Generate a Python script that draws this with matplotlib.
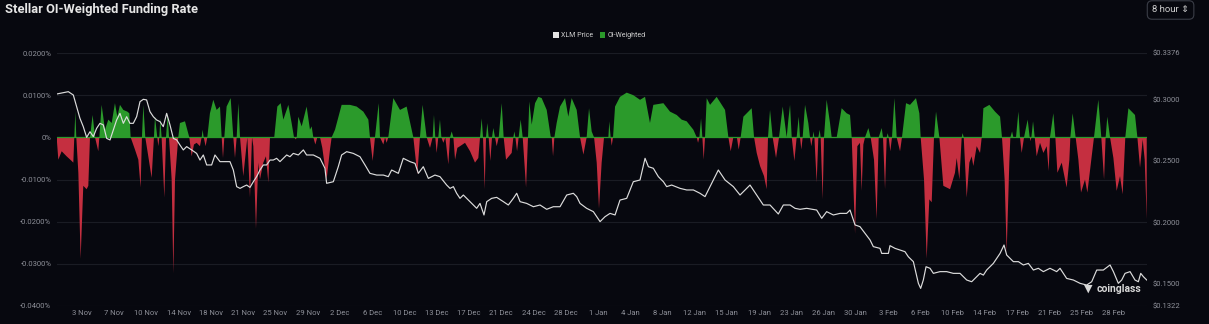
import numpy as np
import matplotlib.pyplot as plt
from matplotlib.patches import Patch

plt.rcParams['font.family'] = ['Roboto', 'DejaVu Sans']

# x values are days since 31 Oct 00:00, funding rate in %
funding_pts = [
    (0.63, 0), (0.82, -0.0053), (1.20, -0.0033), (1.76, -0.0045), (2.33, -0.0056), (2.52, -0.0060),
    (2.63, 0), (2.75, 0.0061), (2.86, 0), (3.09, -0.0084), (3.35, -0.0288), (3.65, -0.0115),
    (4.03, -0.0123), (4.22, -0.0115), (4.41, 0), (4.71, 0.0053), (4.98, 0), (5.35, -0.0033),
    (5.47, 0), (5.73, 0.0077), (6.11, 0.0018), (6.49, 0.0042), (6.87, 0.0034), (7.24, 0.0081),
    (7.51, 0.0049), (7.81, 0.0077), (8.19, 0.0065), (8.64, 0.0061), (8.87, 0.0057), (9.02, 0),
    (9.51, -0.0029), (9.89, -0.0053), (10.15, -0.0119), (10.30, 0), (10.46, 0.0077), (10.68, 0),
    (11.02, -0.0045), (11.40, -0.0096), (11.66, 0), (11.78, 0.0049), (12.04, 0), (12.16, -0.0021),
    (12.27, 0), (12.38, 0.0045), (12.53, 0), (12.84, -0.0143), (13.03, 0), (13.22, 0.0057),
    (13.37, 0), (13.67, -0.0100), (13.86, -0.0323), (14.05, -0.0100), (14.42, 0), (14.61, 0.0034),
    (15.18, 0.0038), (15.67, 0), (15.94, -0.0045), (16.20, -0.0017), (16.50, -0.0013), (16.88, -0.0021),
    (17.07, 0), (17.18, 0.0018), (17.30, 0), (17.52, -0.0021), (17.71, 0), (18.01, 0.0057),
    (18.39, 0.0089), (18.77, 0.0065), (19.15, 0.0073), (19.34, 0), (19.49, -0.0049), (19.64, 0),
    (19.90, 0.0073), (20.36, 0.0093), (20.66, 0), (20.85, -0.0049), (21.04, 0), (21.23, 0.0081),
    (21.42, 0), (21.79, -0.0092), (22.25, 0), (22.55, -0.0143), (22.78, 0), (22.93, -0.0021),
    (23.23, -0.0217), (23.49, -0.0060), (23.68, -0.0100), (24.06, -0.0060), (24.36, -0.0045),
    (24.63, -0.0107), (24.82, 0), (25.30, 0), (25.65, 0.0073), (26.03, 0.0081), (26.33, 0.0042),
    (26.90, 0.0077), (27.27, 0.0034), (27.54, 0), (27.76, -0.0005), (27.85, 0), (28.03, 0.0049),
    (28.41, 0.0026), (28.97, 0.0073), (29.35, 0.0018), (29.54, 0.0026), (29.73, 0), (29.96, -0.0017),
    (30.18, 0), (30.49, 0), (30.75, -0.0025), (31.24, -0.0100), (31.62, -0.0029), (31.81, 0),
    (32.19, 0.0018), (32.94, 0.0077), (33.89, 0.0077), (34.64, 0.0073), (35.40, 0.0061),
    (35.97, 0.0042), (36.15, 0), (36.46, -0.0056), (36.72, 0), (37.14, 0.0081), (37.29, 0),
    (37.67, -0.0017), (37.86, 0), (38.04, -0.0013), (38.23, 0), (38.80, 0.0093), (39.56, 0.0065),
    (40.31, 0.0073), (41.07, 0), (41.52, -0.0088), (41.82, 0), (42.12, 0.0077), (42.58, 0),
    (42.96, -0.0025), (43.26, 0), (43.41, 0.0053), (43.56, 0), (43.71, -0.0037), (43.90, 0),
    (44.09, 0.0042), (44.25, 0), (44.47, -0.0013), (44.70, 0), (45.04, -0.0064), (45.23, 0),
    (45.42, 0.0014), (45.61, 0), (45.80, -0.0053), (46.06, -0.0025), (46.36, -0.0021), (46.93, -0.0013),
    (47.50, -0.0033), (48.06, -0.0060), (48.44, -0.0049), (48.63, 0), (48.82, 0.0045), (48.97, 0),
    (49.16, -0.0123), (49.31, 0), (49.46, 0.0034), (49.61, 0), (49.80, -0.0056), (49.99, 0),
    (50.14, 0.0022), (50.33, 0), (50.52, -0.0021), (50.75, 0), (51.09, 0.0081), (51.31, 0),
    (51.58, -0.0053), (52.22, -0.0037), (52.41, 0), (52.52, 0.0014), (52.64, 0), (52.83, -0.0033),
    (53.01, 0), (53.24, 0.0042), (53.47, 0), (53.85, -0.0119), (54.07, 0), (54.22, 0.0085),
    (54.49, 0.0030), (54.87, 0.0081), (55.24, 0.0096), (55.62, 0.0093), (56.19, 0.0065),
    (56.64, 0.0002), (56.76, 0), (56.91, -0.0045), (57.06, 0), (57.32, 0.0034), (57.70, 0.0073),
    (58.27, 0.0093), (58.64, 0.0049), (59.02, 0.0093), (59.59, 0.0065), (59.97, 0), (60.35, -0.0041),
    (60.72, 0), (60.99, 0.0069), (61.29, 0.0014), (61.56, 0), (61.86, -0.0060), (62.12, -0.0169),
    (62.42, -0.0060), (62.69, 0), (63.18, 0), (63.29, 0.0038), (63.44, 0), (63.56, -0.0020),
    (63.71, 0), (63.94, 0.0073), (64.50, 0.0096), (65.26, 0.0106), (66.01, 0.0100), (66.77, 0.0089),
    (67.34, 0.0096), (67.90, 0.0034), (68.28, 0.0077), (69.42, 0.0081), (70.17, 0.0061),
    (70.93, 0.0053), (71.49, 0.0042), (72.06, 0.0038), (72.82, 0.0018), (73.20, 0), (73.35, -0.0013),
    (73.50, 0), (73.69, 0.0045), (73.84, 0), (73.99, -0.0053), (74.14, 0), (74.33, 0.0093),
    (74.71, 0.0077), (75.46, 0.0096), (76.41, 0.0065), (76.79, 0), (77.05, -0.0033), (77.35, 0),
    (77.75, 0), (77.96, -0.0029), (78.18, 0), (78.49, 0.0049), (79.43, 0.0069), (79.70, 0),
    (80.00, -0.0037), (80.38, -0.0068), (80.83, -0.0092), (81.13, -0.0123), (81.28, 0),
    (81.51, 0.0065), (81.81, 0), (82.19, -0.0049), (82.53, 0), (82.95, 0.0073), (83.40, 0),
    (83.59, 0.0042), (83.78, 0.0077), (83.97, 0), (84.27, -0.0056), (84.53, 0), (84.76, 0.0049),
    (84.91, 0), (85.06, -0.0029), (85.21, 0), (85.48, 0.0077), (85.85, 0.0034), (86.04, 0),
    (86.19, -0.0021), (86.35, 0), (86.42, 0.0014), (86.54, 0), (86.80, -0.0107), (86.99, 0),
    (87.14, 0.0018), (87.25, 0), (87.48, -0.0147), (87.63, 0), (87.93, 0.0089), (88.31, 0.0034),
    (88.50, 0), (89.07, 0), (89.63, 0.0069), (90.20, 0.0057), (90.58, 0.0053), (90.77, 0),
    (91.15, -0.0229), (91.41, -0.0021), (91.71, -0.0013), (91.90, -0.0127), (92.09, -0.0017),
    (92.28, 0), (92.66, 0.0022), (92.92, 0), (93.30, -0.0053), (93.60, -0.0194), (93.83, 0),
    (94.17, 0.0022), (94.32, 0), (94.55, -0.0123), (94.74, 0), (94.85, 0.0010), (94.96, 0),
    (95.15, -0.0033), (95.34, 0), (95.61, 0.0093), (95.87, 0), (96.25, -0.0033), (96.47, 0),
    (96.93, 0.0081), (97.38, 0.0077), (98.06, 0.0093), (98.44, 0.0057), (98.59, 0), (98.97, -0.0100),
    (99.27, -0.0288), (99.57, -0.0147), (99.84, -0.0154), (100.10, 0), (100.33, 0.0061), (100.71, 0),
    (101.16, -0.0115), (101.92, -0.0123), (102.48, -0.0084), (102.67, -0.0049), (102.98, -0.0100),
    (103.24, 0), (103.35, 0.0010), (103.47, 0), (103.81, -0.0143), (104.11, -0.0060),
    (104.37, -0.0045), (104.56, -0.0068), (104.94, -0.0021), (105.32, -0.0037), (105.51, 0),
    (105.70, 0.0069), (106.38, 0.0077), (107.02, 0.0061), (107.59, 0.0049), (107.81, 0),
    (108.11, -0.0100), (108.34, -0.0272), (108.64, -0.0060), (108.76, 0), (108.95, 0.0014),
    (109.10, 0), (109.40, 0), (109.67, 0.0061), (109.85, 0), (110.04, -0.0037), (110.31, 0),
    (110.72, 0.0042), (110.95, 0), (111.06, -0.0009), (111.14, 0), (111.33, 0.0038), (111.52, 0),
    (111.74, -0.0045), (112.12, -0.0013), (112.50, -0.0037), (112.88, -0.0021), (113.10, -0.0080),
    (113.25, 0), (113.63, 0.0057), (113.86, 0), (114.09, -0.0084), (114.58, -0.0060),
    (115.14, -0.0119), (115.45, -0.0053), (115.56, 0), (115.82, 0.0057), (116.16, 0),
    (116.47, -0.0053), (116.77, -0.0131), (117.22, -0.0100), (117.49, -0.0131), (117.98, -0.0045),
    (118.24, 0), (118.73, 0.0089), (119.07, 0), (119.38, -0.0100), (119.56, 0), (119.75, 0.0049),
    (120.06, 0), (120.44, -0.0049), (120.81, -0.0127), (121.19, -0.0092), (121.49, -0.0135),
    (121.79, 0), (122.14, 0.0069), (122.89, 0.0053), (123.16, 0), (123.46, -0.0072),
    (123.76, -0.0005), (123.99, -0.0053), (124.22, -0.0194),
]

# XLM price in USD
price_pts = [
    (0.63, 0.3043), (1.95, 0.3062), (2.52, 0.3035), (2.90, 0.2940), (3.27, 0.2846), (3.65, 0.2778),
    (4.03, 0.2691), (4.41, 0.2737), (4.79, 0.2697), (5.16, 0.2764), (5.54, 0.2805), (5.92, 0.2792),
    (6.30, 0.2683), (6.68, 0.2670), (7.05, 0.2751), (7.43, 0.2832), (7.81, 0.2886), (8.19, 0.2805),
    (8.57, 0.2859), (8.94, 0.2805), (9.32, 0.2805), (9.70, 0.2859), (10.08, 0.2981), (10.46, 0.3000),
    (10.83, 0.2995), (11.21, 0.2900), (11.59, 0.2859), (11.97, 0.2832), (12.35, 0.2819),
    (12.72, 0.2778), (13.10, 0.2886), (13.48, 0.2792), (13.86, 0.2683), (14.24, 0.2670),
    (14.61, 0.2629), (14.99, 0.2589), (15.37, 0.2616), (15.94, 0.2589), (16.50, 0.2561),
    (16.88, 0.2507), (17.26, 0.2548), (17.64, 0.2467), (18.20, 0.2467), (18.58, 0.2548),
    (19.15, 0.2494), (19.71, 0.2494), (20.28, 0.2494), (20.66, 0.2426), (21.04, 0.2291),
    (21.42, 0.2277), (21.79, 0.2291), (22.17, 0.2304), (22.55, 0.2285), (22.93, 0.2331),
    (23.30, 0.2372), (23.68, 0.2426), (24.06, 0.2467), (24.44, 0.2467), (24.82, 0.2507),
    (25.19, 0.2507), (25.57, 0.2521), (25.95, 0.2494), (26.33, 0.2521), (26.71, 0.2548),
    (27.08, 0.2534), (27.46, 0.2561), (28.03, 0.2548), (28.60, 0.2589), (28.97, 0.2548),
    (29.73, 0.2548), (30.49, 0.2521), (31.05, 0.2440), (31.24, 0.2318), (32.00, 0.2331),
    (32.56, 0.2453), (32.94, 0.2548), (33.51, 0.2575), (34.26, 0.2561), (35.02, 0.2534),
    (35.59, 0.2467), (36.15, 0.2399), (36.91, 0.2385), (37.67, 0.2385), (38.23, 0.2372),
    (38.61, 0.2426), (39.37, 0.2399), (39.93, 0.2521), (40.69, 0.2494), (41.26, 0.2480),
    (41.64, 0.2399), (42.20, 0.2453), (42.77, 0.2358), (43.52, 0.2385), (44.09, 0.2372),
    (44.85, 0.2304), (45.23, 0.2277), (45.61, 0.2291), (45.98, 0.2237), (46.36, 0.2196),
    (46.74, 0.2223), (47.50, 0.2169), (48.25, 0.2115), (48.63, 0.2155), (49.08, 0.2061),
    (49.39, 0.2169), (49.95, 0.2196), (50.52, 0.2204), (51.28, 0.2169), (51.84, 0.2142),
    (52.41, 0.2196), (52.79, 0.2237), (53.17, 0.2169), (53.92, 0.2155), (54.68, 0.2128),
    (55.43, 0.2142), (56.19, 0.2107), (56.94, 0.2128), (57.70, 0.2128), (58.46, 0.2223),
    (59.21, 0.2237), (59.59, 0.2210), (59.97, 0.2155), (60.72, 0.2115), (61.48, 0.2088),
    (62.24, 0.2007), (62.80, 0.2047), (63.37, 0.2074), (63.94, 0.2061), (64.50, 0.2182),
    (65.26, 0.2196), (66.01, 0.2331), (66.77, 0.2345), (67.34, 0.2521), (67.72, 0.2453),
    (68.28, 0.2440), (68.85, 0.2372), (69.42, 0.2331), (69.79, 0.2291), (70.36, 0.2304),
    (71.31, 0.2277), (72.06, 0.2264), (72.82, 0.2264), (73.57, 0.2237), (74.14, 0.2210),
    (74.71, 0.2291), (75.65, 0.2426), (76.41, 0.2345), (77.35, 0.2291), (78.11, 0.2223),
    (78.68, 0.2264), (79.24, 0.2304), (80.00, 0.2223), (80.75, 0.2142), (81.51, 0.2142),
    (82.45, 0.2069), (83.02, 0.2142), (83.78, 0.2142), (84.34, 0.2115), (84.91, 0.2107),
    (85.67, 0.2115), (86.80, 0.2101), (87.37, 0.2034), (87.93, 0.2088), (88.69, 0.2061),
    (89.45, 0.2074), (90.20, 0.2074), (90.58, 0.2101), (91.15, 0.1980), (91.71, 0.1966),
    (92.28, 0.1912), (92.85, 0.1858), (93.22, 0.1804), (93.98, 0.1790), (94.17, 0.1749),
    (94.93, 0.1749), (95.11, 0.1812), (95.68, 0.1790), (96.25, 0.1776), (96.81, 0.1763),
    (97.19, 0.1722), (97.76, 0.1682), (98.33, 0.1506), (98.59, 0.1465), (98.89, 0.1533),
    (99.20, 0.1641), (99.65, 0.1628), (100.03, 0.1587), (100.78, 0.1601), (101.54, 0.1601),
    (102.29, 0.1587), (103.05, 0.1587), (103.81, 0.1533), (104.37, 0.1519), (105.32, 0.1587),
    (105.70, 0.1573), (106.07, 0.1614), (106.83, 0.1668), (107.59, 0.1749), (108.04, 0.1817),
    (108.34, 0.1736), (109.10, 0.1682), (109.67, 0.1682), (110.23, 0.1655), (110.80, 0.1668),
    (111.37, 0.1614), (111.93, 0.1628), (112.50, 0.1601), (113.25, 0.1628), (114.01, 0.1601),
    (114.39, 0.1628), (115.14, 0.1546), (115.90, 0.1533), (116.66, 0.1506), (117.41, 0.1492),
    (117.98, 0.1519), (118.55, 0.1614), (119.30, 0.1614), (120.06, 0.1655), (120.44, 0.1601),
    (121.00, 0.1506), (121.38, 0.1533), (121.76, 0.1587), (122.33, 0.1601), (122.89, 0.1533),
    (123.27, 0.1519), (123.54, 0.1587), (123.84, 0.1560), (124.22, 0.1533),
]

rate_ticks = [0.02, 0.01, 0, -0.01, -0.02, -0.03, -0.04]
rate_labels = ['0.0200%', '0.0100%', '0%', '-0.0100%', '-0.0200%', '-0.0300%', '-0.0400%']
price_ticks = [0.3376, 0.3, 0.25, 0.2, 0.15, 0.1322]
price_labels = ['$0.3376', '$0.3000', '$0.2500', '$0.2000', '$0.1500', '$0.1322']
date_labels = ['3 Nov', '7 Nov', '10 Nov', '14 Nov', '18 Nov', '21 Nov', '25 Nov', '29 Nov',
               '2 Dec', '6 Dec', '10 Dec', '13 Dec', '17 Dec', '21 Dec', '24 Dec', '28 Dec',
               '1 Jan', '4 Jan', '8 Jan', '12 Jan', '15 Jan', '19 Jan', '23 Jan', '26 Jan', '30 Jan',
               '3 Feb', '6 Feb', '10 Feb', '14 Feb', '17 Feb', '21 Feb', '25 Feb', '28 Feb']

fd = np.array([p[0] for p in funding_pts])
fr = np.array([p[1] for p in funding_pts])
pd_ = np.array([p[0] for p in price_pts])
pv = np.array([p[1] for p in price_pts])

bg = '#07080f'
green = '#2b9a2b'
red = '#c52f40'
tick_col = '#8e9099'

fig = plt.figure(figsize=(12.09, 3.24), dpi=100, facecolor=bg)
ax = fig.add_axes([57 / 1209, 18 / 324, 1090 / 1209, 253 / 324])
ax.set_facecolor(bg)
ax.fill_between(fd, fr, 0, where=fr >= 0, interpolate=True, color=green, lw=0)
ax.fill_between(fd, fr, 0, where=fr <= 0, interpolate=True, color=red, lw=0)
ax.axhline(0, color=green, lw=0.9, zorder=1)
ax.set_xlim(0.67, 124.25)
ax.set_ylim(-0.04, 0.02)
ax.set_yticks(rate_ticks)
ax.set_yticklabels(rate_labels)
ax.grid(axis='y', color='#1a1c24', lw=0.8)
ax.set_axisbelow(True)

tick_pos = 3.5 + 3.656 * np.arange(len(date_labels))
ax.set_xticks(tick_pos)
ax.set_xticklabels(date_labels)
ax.tick_params(axis='both', length=0, labelsize=5.5, labelcolor=tick_col)
ax.tick_params(axis='x', pad=3)
ax.tick_params(axis='y', pad=4)
for s in ax.spines.values():
    s.set_visible(False)

ax2 = ax.twinx()
ax2.plot(pd_, pv, color='#dcdcdc', lw=0.85)
ax2.set_ylim(0.1322, 0.3376)
ax2.set_yticks(price_ticks)
ax2.set_yticklabels(price_labels)
ax2.tick_params(axis='y', length=0, labelsize=5.5, labelcolor=tick_col, pad=4)
for s in ax2.spines.values():
    s.set_visible(False)

fig.text(5 / 1209, 1 - 9 / 324, 'Stellar OI-Weighted Funding Rate', fontsize=9.3,
         fontweight='bold', color='#e6e6e6', va='center', ha='left')

handles = [Patch(facecolor='#e4e4e4'), Patch(facecolor=green)]
fig.legend(handles, ['XLM Price', 'OI-Weighted'], loc='center', bbox_to_anchor=(0.496, 0.889),
           ncol=2, frameon=False, fontsize=5, handlelength=0.8, handleheight=0.8,
           handletextpad=0.4, columnspacing=0.9, labelcolor='#cfcfcf')

fig.text(1152 / 1209, 1 - 10 / 324, '8 hour \u21d5', fontsize=6.8, color='#d0d0d0', va='center',
         bbox=dict(boxstyle='round,pad=0.5', fc=bg, ec='#3a3d47', lw=0.8))

# watermark
fig.text(1088 / 1209, 1 - 289 / 324, '\u25bc', fontsize=8, color='#d8d8d8', ha='center', va='center')
fig.text(1141 / 1209, 1 - 289 / 324, 'coinglass', fontsize=7.5, fontweight='bold',
         color='#d8d8d8', ha='right', va='center')

fig.savefig('out.png', dpi=100, facecolor=bg)
